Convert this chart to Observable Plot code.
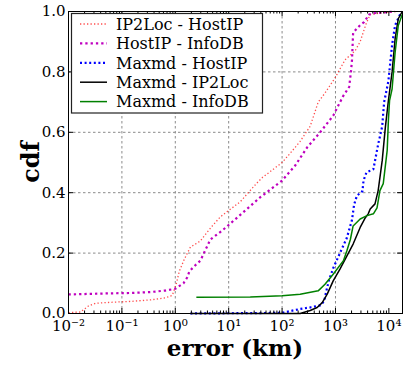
<!DOCTYPE html>
<html>
<head>
<meta charset="utf-8">
<script src="https://cdn.jsdelivr.net/npm/d3@7"></script>
<script src="https://cdn.jsdelivr.net/npm/@observablehq/plot@0.6"></script>
<style>
  html, body { margin: 0; padding: 0; background: white; }
  #chart { position: relative; width: 403px; height: 365px; }
</style>
</head>
<body>
<div id="chart"></div>
<script>
// ---- data (error in km, cdf) ----
const seriesNames = ["IP2Loc - HostIP", "HostIP - InfoDB", "Maxmd - HostIP", "Maxmd - IP2Loc", "Maxmd - InfoDB"];

const ip2locHostip = [
  [0.01, 0.003], [0.0168, 0.005], [0.0237, 0.025], [0.032, 0.034], [0.061, 0.037], [0.145, 0.040],
  [0.342, 0.045], [0.653, 0.052], [0.88, 0.060], [1.05, 0.10], [1.19, 0.14], [1.48, 0.18],
  [1.92, 0.22], [2.95, 0.24], [4.0, 0.27], [4.94, 0.29], [6.98, 0.32], [9.8, 0.34], [16.5, 0.37],
  [32.9, 0.43], [42.6, 0.45], [60, 0.47], [100, 0.50], [141, 0.53], [218, 0.57], [336, 0.62],
  [475, 0.70], [636, 0.73], [980, 0.78], [1513, 0.84], [2336, 0.87], [2900, 0.90], [3760, 0.96],
  [4470, 0.99], [6900, 0.995], [13600, 1.0]
];

const hostipInfodb = [
  [0.01, 0.063], [0.04, 0.066], [0.145, 0.068], [0.342, 0.071], [0.653, 0.076], [1.0, 0.082],
  [1.42, 0.10], [1.68, 0.12], [1.84, 0.14], [2.38, 0.16], [2.95, 0.175], [4.54, 0.245], [7.6, 0.275],
  [14.5, 0.318], [39, 0.385], [100, 0.44], [176, 0.49], [295, 0.55], [516, 0.60], [906, 0.655],
  [1393, 0.72], [1803, 0.75], [1950, 0.80], [2040, 0.84], [2140, 0.93], [2900, 0.955], [3430, 0.965],
  [4270, 0.99], [5520, 0.995], [13060, 1.0]
];

const maxmdHostip = [
  [1.92, 0.0], [100, 0.002], [218, 0.015], [336, 0.02], [516, 0.027], [614, 0.04], [665, 0.07],
  [754, 0.11], [906, 0.15], [1213, 0.20], [1630, 0.25], [2040, 0.31], [2230, 0.36], [2520, 0.39],
  [3200, 0.405], [3350, 0.44], [3800, 0.467], [5130, 0.478], [6300, 0.56], [7500, 0.62], [8150, 0.70],
  [9800, 0.77], [11500, 0.89], [13100, 0.955], [16200, 0.99], [17800, 1.0]
];

const maxmdIp2loc = [
  [1.92, 0.0], [218, 0.0], [336, 0.01], [454, 0.02], [565, 0.036], [700, 0.064], [906, 0.108],
  [1213, 0.147], [1630, 0.19], [2140, 0.23], [2900, 0.285], [3650, 0.318], [4100, 0.33], [4470, 0.346],
  [5500, 0.363], [6300, 0.407], [7500, 0.506], [8600, 0.617], [9800, 0.705], [11500, 0.80],
  [13100, 0.91], [15000, 0.976], [17800, 1.0]
];

const maxmdInfodb = [
  [2.48, 0.054], [25.4, 0.055], [100, 0.059], [218, 0.064], [475, 0.075], [636, 0.097], [906, 0.13],
  [1410, 0.175], [1630, 0.207], [1900, 0.245], [2140, 0.29], [2900, 0.313], [3900, 0.324], [5130, 0.33],
  [6000, 0.35], [6800, 0.407], [7850, 0.43], [9300, 0.54], [9800, 0.64], [10300, 0.705], [11500, 0.744],
  [13100, 0.865], [15000, 0.954], [17800, 0.99]
];

const xTicks = [1e-2, 1e-1, 1, 10, 100, 1e3, 1e4];
const xTickLabels = ["10\u207B\u00B2", "10\u207B\u00B9", "10\u2070", "10\u00B9", "10\u00B2", "10\u00B3", "10\u2074"];
const yTicks = [0, 0.2, 0.4, 0.6, 0.8, 1.0];
const yTickLabels = ["0.0", "0.2", "0.4", "0.6", "0.8", "1.0"];
const xLabel = "error (km)";
const yLabel = "cdf";

// ---- build ----
const seriesData = [ip2locHostip, hostipInfodb, maxmdHostip, maxmdIp2loc, maxmdInfodb];
const styles = [
  {stroke: "#ff2020", strokeOpacity: 0.8, strokeWidth: 1.3, strokeDasharray: "1.3,2.2"},
  {stroke: "#bf00bf", strokeOpacity: 1, strokeWidth: 2.2, strokeDasharray: "2.3,3"},
  {stroke: "#0000ff", strokeOpacity: 1, strokeWidth: 2.2, strokeDasharray: "2,2.6"},
  {stroke: "#000000", strokeOpacity: 1, strokeWidth: 1.5, strokeDasharray: "none"},
  {stroke: "#008000", strokeOpacity: 1, strokeWidth: 1.5, strokeDasharray: "none"}
];

const W = 403, H = 365, mL = 68, mR = 1, mT = 11, mB = 52;
const plotW = W - mL - mR, plotH = H - mT - mB;
const xDomain = [0.01, 18000];

const minorX = [];
for (let k = -2; k <= 4; k++) for (let m = 2; m <= 9; m++) {
  const v = m * Math.pow(10, k);
  if (v > xDomain[0] && v < xDomain[1]) minorX.push(v);
}
const gridX = xTicks.slice(1, -1);
const gridY = yTicks.slice(1, -1);

const lineMarks = seriesData.map((pts, i) =>
  Plot.line(pts.map(([km, cdf]) => ({km, cdf, series: seriesNames[i]})), {
    x: "km", y: "cdf", stroke: styles[i].stroke, strokeOpacity: styles[i].strokeOpacity,
    strokeWidth: styles[i].strokeWidth, strokeDasharray: styles[i].strokeDasharray,
    strokeLinejoin: "round", strokeLinecap: "butt"
  })
);

const chart = Plot.plot({
  width: W, height: H,
  marginLeft: mL, marginRight: mR, marginTop: mT, marginBottom: mB,
  style: {fontFamily: "'DejaVu Serif', serif", fontSize: "15px", background: "white", color: "black", overflow: "visible"},
  x: {type: "log", domain: xDomain},
  y: {domain: [0, 1]},
  marks: [
    Plot.ruleX(gridX, {x: d => d, stroke: "#8a8a8a", strokeDasharray: "2.5,2.5", strokeWidth: 1}),
    Plot.ruleY(gridY, {y: d => d, stroke: "#8a8a8a", strokeDasharray: "2.5,2.5", strokeWidth: 1}),
    ...lineMarks,
    // inward ticks
    Plot.tickX(xTicks, {x: d => d, insetTop: plotH - 5, stroke: "black"}),
    Plot.tickX(xTicks, {x: d => d, insetBottom: plotH - 5, stroke: "black"}),
    Plot.tickX(minorX, {x: d => d, insetTop: plotH - 2.5, stroke: "black"}),
    Plot.tickX(minorX, {x: d => d, insetBottom: plotH - 2.5, stroke: "black"}),
    Plot.tickY(yTicks, {y: d => d, insetRight: plotW - 5, stroke: "black"}),
    Plot.tickY(yTicks, {y: d => d, insetLeft: plotW - 5, stroke: "black"}),
    Plot.frame({stroke: "black", strokeWidth: 1}),
    Plot.axisX(xTicks, {tickSize: 0, tickPadding: 7, label: null, fontSize: 15,
      tickFormat: d => xTickLabels[xTicks.indexOf(d)]}),
    Plot.axisY(yTicks, {tickSize: 0, tickPadding: 3, label: null, fontSize: 15,
      tickFormat: d => yTickLabels[yTicks.indexOf(d)]})
  ]
});

document.getElementById("chart").appendChild(chart);

// axis titles and legend (text only, no data)
const svg = d3.select(chart);
svg.append("text")
  .attr("x", mL + plotW / 2).attr("y", 356)
  .attr("text-anchor", "middle")
  .style("font-family", "'DejaVu Serif', serif").style("font-weight", "bold").style("font-size", "23px")
  .attr("fill", "black")
  .text(xLabel);
svg.append("text")
  .attr("transform", `translate(39,${mT + plotH / 2}) rotate(-90)`)
  .attr("text-anchor", "middle")
  .style("font-family", "'DejaVu Serif', serif").style("font-weight", "bold").style("font-size", "24px")
  .attr("fill", "black")
  .text(yLabel);

const lg = svg.append("g").attr("class", "legend");
lg.append("rect").attr("x", 71.5).attr("y", 13.5).attr("width", 191).attr("height", 99.5)
  .attr("fill", "white").attr("stroke", "#222").attr("stroke-width", 1.2);
seriesNames.forEach((name, i) => {
  const cy = 24 + i * 19.4;
  const s = styles[i];
  lg.append("line").attr("x1", 80).attr("x2", 107).attr("y1", cy).attr("y2", cy)
    .attr("stroke", s.stroke).attr("stroke-opacity", s.strokeOpacity).attr("stroke-width", s.strokeWidth)
    .attr("stroke-dasharray", s.strokeDasharray);
  lg.append("text").attr("x", 116).attr("y", cy).attr("dy", "0.36em")
    .attr("text-anchor", "start")
    .style("font-family", "'DejaVu Serif', serif").style("font-size", "16px")
    .attr("fill", "black").text(name);
});
</script>
</body>
</html>
